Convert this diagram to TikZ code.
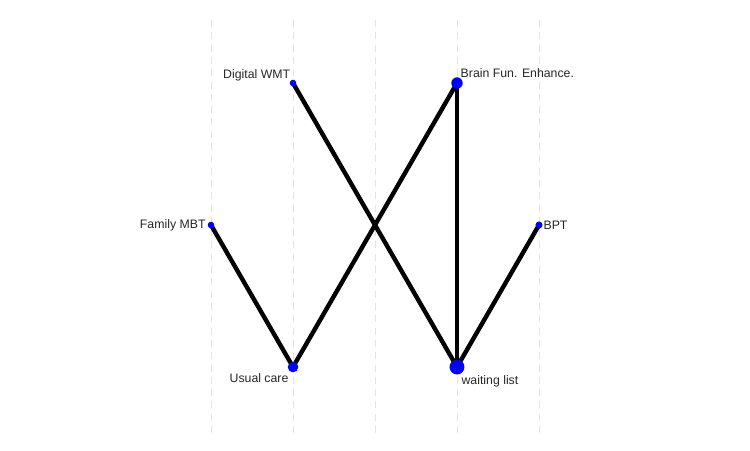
\documentclass[tikz,border=0pt]{standalone}
\usepackage{fontspec}
\setmainfont{Liberation Sans}
\usetikzlibrary{positioning, backgrounds}
\definecolor{cdot}{HTML}{0000FF}
\definecolor{cgrid}{HTML}{E4E4E4}
\tikzset{
  every picture/.style={font=\fontsize{14}{16}\selectfont},
  trt/.style={circle, fill=cdot, inner sep=0pt, minimum size=#1},
  trt/.default=7pt,
  edge/.style={draw=black, line width=5pt},
  grid line/.style={draw=cgrid, line width=0.8pt, dash pattern=on 8pt off 6pt},
  lbl/.style={inner sep=0pt, text=black!85},
}

\begin{document}
\begin{tikzpicture}[x=0.04cm, y=-0.04cm]
  \useasboundingbox (0,0) rectangle (750,450);
  % treatments
  \node[trt=7.5pt] (dwmt) at (293,83)  {};
  \node[trt=13pt]  (bfe)  at (457,83)  {};
  \node[trt=7.5pt] (fmbt) at (211,225) {};
  \node[trt=8pt]   (bpt)  at (539,225) {};
  \node[trt=12pt]  (uc)   at (293,367) {};
  \node[trt=17pt]  (wl)   at (457,367) {};
  % labels
  \node[lbl, anchor=base east, xshift=-3pt, yshift=5pt] (ldwmt) at (dwmt.center) {Digital WMT};
  \node[lbl, anchor=base west, xshift=4pt, yshift=6pt] (lbfe) at (bfe.center) {Brain Fun. Enhance.};
  \node[lbl, anchor=east, xshift=-6pt] (lfmbt) at (fmbt.center) {Family MBT};
  \node[lbl, anchor=west, xshift=5pt] (lbpt) at (bpt.center) {BPT};
  \node[lbl, anchor=north east, xshift=-5pt, yshift=-7pt] (luc) at (uc.center) {Usual care};
  \node[lbl, anchor=north west, xshift=5pt, yshift=-9pt] (lwl) at (wl.center) {waiting list};
  \begin{scope}[on background layer]
    % dashed guides
    \foreach \x/\n in {211/1,293/2,375/3,457/4,539/5} {
      \coordinate (gt\n) at (\x,20); \coordinate (gb\n) at (\x,435);
      \draw[grid line] (gt\n) -- (gb\n);
    }
    % comparisons
    \draw[edge] (fmbt.center) -- (uc.center);
    \draw[edge] (uc.center) -- (bfe.center);
    \draw[edge] (dwmt.center) -- (wl.center);
    \draw[edge] (bfe.center) -- (wl.center);
    \draw[edge] (bpt.center) -- (wl.center);
  \end{scope}
\end{tikzpicture}
\end{document}
